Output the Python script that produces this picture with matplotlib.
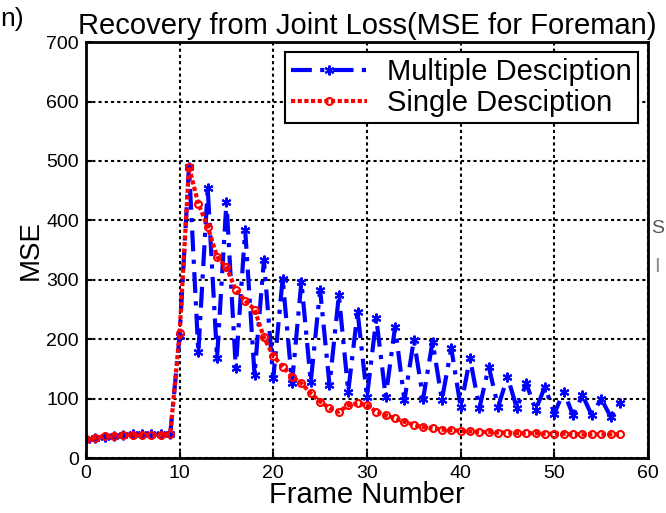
import numpy as np
import matplotlib
matplotlib.use("Agg")
import matplotlib.pyplot as plt
from matplotlib import font_manager

frames = np.arange(0, 58)

# Multiple description MSE (blue)
mse_multiple = [30, 33, 36, 38, 39, 40, 40, 40, 40, 40,
                205, 490, 178, 454, 168, 431, 151, 384, 140, 333,
                134, 302, 126, 297, 128, 283, 123, 274, 112, 246,
                103, 235, 103, 221, 97, 199, 100, 196, 98, 185,
                86, 168, 84, 154, 86, 137, 84, 126, 81, 120,
                75, 112, 72, 106, 72, 100, 70, 93]

# Single description MSE (red)
mse_single = [32, 34, 37, 38, 39, 39, 39, 39, 39, 40,
              210, 490, 428, 389, 339, 321, 283, 265, 250, 203,
              172, 154, 137, 126, 109, 95, 84, 78, 89, 92,
              89, 78, 72, 67, 61, 56, 52, 50, 48, 47,
              46, 45, 44, 44, 43, 43, 42, 42, 42, 41,
              41, 41, 40, 40, 40, 40, 40, 40]

xticks = [0, 10, 20, 30, 40, 50, 60]
yticks = [0, 100, 200, 300, 400, 500, 600, 700]

names = {f.name for f in font_manager.fontManager.ttflist}
base = "Liberation Sans" if "Liberation Sans" in names else "DejaVu Sans"
narrow = "Liberation Sans Narrow" if "Liberation Sans Narrow" in names else base
plt.rcParams["font.family"] = base

fig = plt.figure(figsize=(6.66, 5.13), dpi=100)
ax = fig.add_axes([0.129, 0.107, 0.844, 0.811])

ax.plot(frames, mse_multiple, color="#0000ff", linestyle=(0, (5, 2, 1, 2)),
        linewidth=3, marker=(6, 2, 0), markersize=7, markeredgewidth=1.5,
        label="Multiple Desciption")
ax.plot(frames, mse_single, color="#ff0000", linestyle=(0, (1, 0.6)),
        linewidth=3, marker="o", markersize=5, markerfacecolor="none",
        markeredgewidth=1.5, label="Single Desciption")

ax.set_xlim(0, 60)
ax.set_ylim(0, 700)
ax.set_xticks(xticks)
ax.set_yticks(yticks)
ax.tick_params(labelsize=14, direction="in", length=4, width=1.5, pad=5)
ax.grid(True, color="black", linestyle=(0, (1.5, 1.5)), linewidth=1.5)
for s in ax.spines.values():
    s.set_linewidth(2)

ax.set_xlabel("Frame Number", fontsize=21, labelpad=-1)
ax.set_ylabel("MSE", fontsize=20, labelpad=2)
ax.set_title("Recovery from Joint Loss(MSE for Foreman)", fontsize=21, pad=6)

leg = ax.legend(loc="upper right", prop={"family": narrow, "size": 21},
                fancybox=False, framealpha=1, edgecolor="black",
                handlelength=2.6, borderaxespad=0.35, borderpad=0.2,
                labelspacing=0.1, handletextpad=0.7)
leg.get_frame().set_linewidth(1.5)

# fragments of neighbouring panels
fig.text(0.0, 0.962, "n)", fontsize=19, va="center", ha="left")
fig.text(0.978, 0.555, "S", fontsize=14, va="center", ha="left", color="#555555")
fig.text(0.982, 0.48, "I", fontsize=15, va="center", ha="left", color="#888888")

fig.savefig("out.png", dpi=100)
